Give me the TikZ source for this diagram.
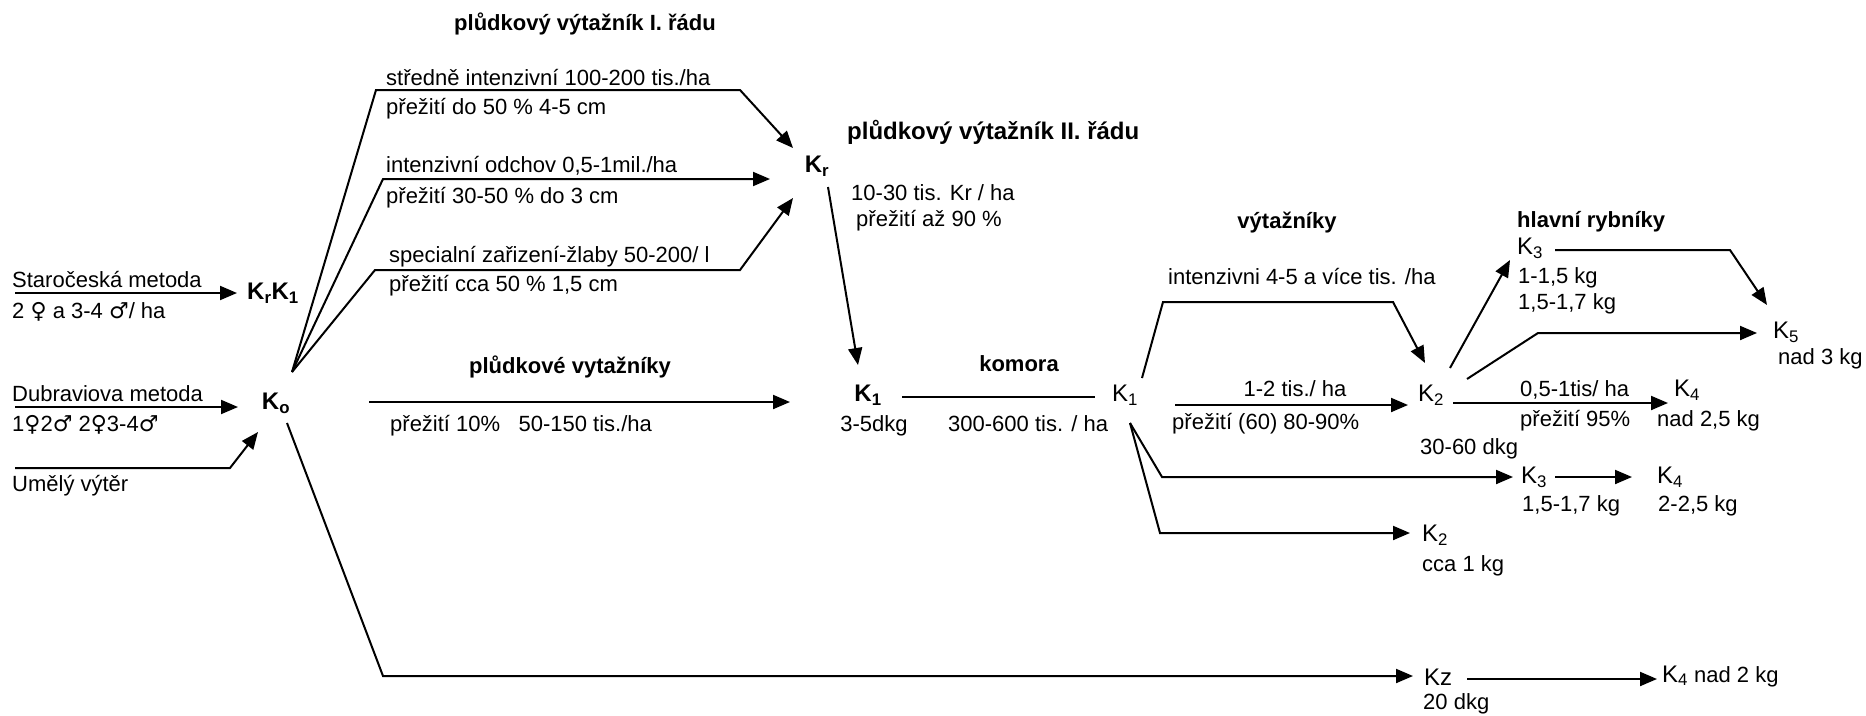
\documentclass[tikz,border=0pt]{standalone}
\usepackage{fontspec}
\setmainfont{Liberation Sans}
\newfontfamily\symf{DejaVu Sans}
\usetikzlibrary{arrows.meta}
\begin{document}
\begin{tikzpicture}[x=1pt,y=-1pt,
  txt/.style={font=\fontsize{22}{24}\selectfont, inner sep=0pt, text height=16pt, text depth=4pt, anchor=west},
  ttl/.style={font=\fontsize{22}{24}\selectfont\bfseries, inner sep=0pt, text height=16pt, text depth=4pt},
  kb/.style={font=\fontsize{24}{26}\selectfont\bfseries, inner sep=0pt},
  kn/.style={font=\fontsize{24}{26}\selectfont, inner sep=0pt},
  ln/.style={line width=2pt},
  ar/.style={line width=2pt, line join=miter, -{Triangle[length=17pt,width=14pt]}},
]
\useasboundingbox (0,0) rectangle (1866,715);
\fill[white] (0,0) rectangle (1866,715);

% ---------- left part ----------
\node[txt] (star) at (12,281) {Staročeská metoda};
\node[txt] (starb) at (12,312) {2 {\symf ♀} a 3-4 {\symf ♂}/ ha};
\node[kb, anchor=west] (krk1) at (247,293) {K\textsubscript{r}K\textsubscript{1}};
\node[txt] (dub) at (12,395) {Dubraviova metoda};
\node[txt] (dubb) at (12,425) {1{\symf ♀}2{\symf ♂} 2{\symf ♀}3-4{\symf ♂}};
\node[txt] (umv) at (12,485) {Umělý výtěr};
\node[kb] (ko) at (276,403) {K\textsubscript{o}};

\coordinate (s0) at (15,293); \coordinate (s1) at (237,293);
\draw[ar] (s0) -- (s1);
\coordinate (d0) at (15,407); \coordinate (d1) at (238,407);
\draw[ar] (d0) -- (d1);
\coordinate (u0) at (15,468); \coordinate (u1) at (258,432);
\draw[ar] (u0) -- (230,468) -- (u1);

% ---------- first order ----------
\node[ttl] (t1) at (585,24) {plůdkový výtažník I. řádu};
\node[txt] (b1a) at (386,79) {středně intenzivní 100-200 tis./ha};
\node[txt] (b1b) at (386,108) {přežití do 50 \% 4-5 cm};
\node[txt] (b2a) at (386,166) {intenzivní odchov 0,5-1mil./ha};
\node[txt] (b2b) at (386,197) {přežití 30-50 \% do 3 cm};
\node[txt] (b3a) at (389,256) {specialní zařizení-žlaby 50-200/ l};
\node[txt] (b3b) at (389,285) {přežití cca 50 \% 1,5 cm};
\node[kb] (kr) at (817,166) {K\textsubscript{r}};

\coordinate (ko1) at (292,372);
\coordinate (kr1) at (793,148);
\coordinate (kr2) at (770,179);
\coordinate (kr3) at (793,198);
\draw[ar] (ko1) -- (376,90) -- (740,90) -- (kr1);
\draw[ar] (ko1) -- (383,179) -- (kr2);
\draw[ar] (ko1) -- (375,270) -- (740,270) -- (kr3);

% ---------- second order ----------
\node[ttl, anchor=west] (t2) at (847,133) {\fontsize{24}{26}\selectfont plůdkový výtažník II. řádu};
\node[txt] (t2a) at (851,194) {10-30 tis. Kr / ha};
\node[txt] (t2b) at (856,220) {přežití až 90 \%};

\node[kb] (k1a) at (868,395) {K\textsubscript{1}};
\node[txt, anchor=center] (k1al) at (874,425) {3-5dkg};
\coordinate (kr4) at (828,187); \coordinate (k1t) at (858,365);
\draw[ar] (kr4) -- (k1t);

\node[ttl] (pv) at (570,367) {plůdkové vytažníky};
\node[txt] (pvb) at (390,425) {přežití 10\%\ \ \ 50-150 tis./ha};
\coordinate (p0) at (369,402); \coordinate (p1) at (790,402);
\draw[ar] (p0) -- (p1);

\node[ttl] (kom) at (1019,365) {komora};
\node[txt] (komb) at (948,425) {300-600 tis. / ha};
\coordinate (c0) at (902,397); \coordinate (c1) at (1095,397);
\draw[ln] (c0) -- (c1);

% ---------- výtažníky ----------
\node[kn] (k1b) at (1125,395) {K\textsubscript{1}};
\node[ttl] (vyt) at (1287,222) {výtažníky};
\node[txt] (vyta) at (1168,278) {intenzivni 4-5 a více tis. /ha};
\node[txt, anchor=center] (v12) at (1295,390) {1-2 tis./ ha};
\node[txt] (v12b) at (1172,423) {přežití (60) 80-90\%};
\node[kn] (k2a) at (1431,395) {K\textsubscript{2}};
\node[txt] (k2al) at (1420,448) {30-60 dkg};

\coordinate (v0) at (1142,378); \coordinate (v1) at (1425,363);
\draw[ar] (v0) -- (1163,302) -- (1393,302) -- (v1);
\coordinate (w0) at (1175,405); \coordinate (w1) at (1408,405);
\draw[ar] (w0) -- (w1);

% ---------- hlavní rybníky ----------
\node[ttl, anchor=west] (hr) at (1517,221) {hlavní rybníky};
\node[kn, anchor=west] (k3a) at (1517,248) {K\textsubscript{3}};
\node[txt] (k3al) at (1518,277) {1-1,5 kg};
\node[txt] (k3bl) at (1518,303) {1,5-1,7 kg};
\node[kn] (k5) at (1786,332) {K\textsubscript{5}};
\node[txt] (k5l) at (1778,358) {nad 3 kg};
\node[txt] (k4t) at (1520,390) {0,5-1tis/ ha};
\node[txt] (k4tb) at (1520,420) {přežití 95\%};
\node[kn] (k4a) at (1687,390) {K\textsubscript{4}};
\node[txt] (k4al) at (1657,420) {nad 2,5 kg};

\coordinate (h0) at (1450,368); \coordinate (h1) at (1510,260);
\draw[ar] (h0) -- (h1);
\coordinate (h2) at (1555,250); \coordinate (h3) at (1767,305);
\draw[ar] (h2) -- (1730,250) -- (h3);
\coordinate (h4) at (1467,379); \coordinate (h5) at (1757,333);
\draw[ar] (h4) -- (1538,333) -- (h5);
\coordinate (h6) at (1453,403); \coordinate (h7) at (1668,403);
\draw[ar] (h6) -- (h7);

% ---------- lower branches ----------
\node[kn] (k3b) at (1534,477) {K\textsubscript{3}};
\node[txt] (k3bl2) at (1522,505) {1,5-1,7 kg};
\node[kn] (k4b) at (1670,477) {K\textsubscript{4}};
\node[txt] (k4bl) at (1658,505) {2-2,5 kg};
\node[kn] (k2b) at (1435,535) {K\textsubscript{2}};
\node[txt] (k2bl) at (1422,565) {cca 1 kg};

\coordinate (l0) at (1130,423);
\coordinate (l1) at (1513,477);
\coordinate (l2) at (1410,533);
\draw[ar] (l0) -- (1162,477) -- (l1);
\draw[ar] (l0) -- (1160,533) -- (l2);
\coordinate (l3) at (1555,477); \coordinate (l4) at (1632,477);
\draw[ar] (l3) -- (l4);

% ---------- bottom ----------
\node[kn] (kz) at (1438,677) {Kz};
\node[txt] (kzl) at (1423,703) {20 dkg};
\node[txt] (k4c) at (1662,676) {\fontsize{24}{26}\selectfont K\textsubscript{4}\fontsize{22}{24}\selectfont{} nad 2 kg};
\coordinate (z0) at (287,423); \coordinate (z1) at (1413,676);
\draw[ar] (z0) -- (383,676) -- (z1);
\coordinate (z2) at (1467,679); \coordinate (z3) at (1657,679);
\draw[ar] (z2) -- (z3);
\end{tikzpicture}
\end{document}
